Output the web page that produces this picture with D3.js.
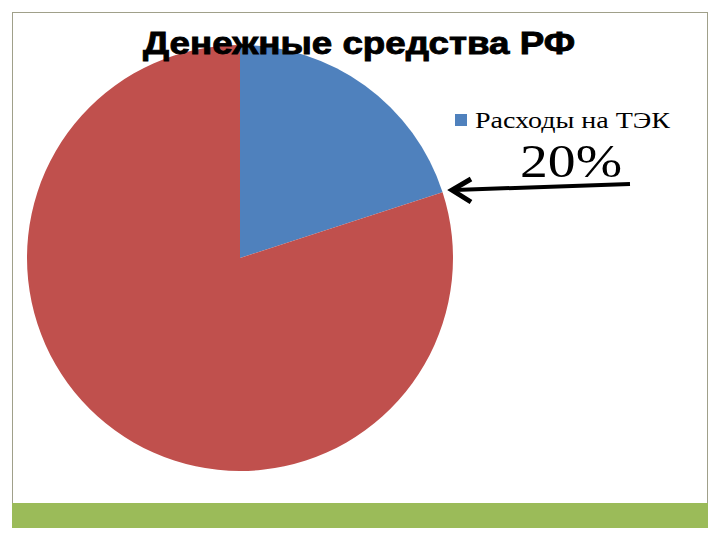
<!DOCTYPE html>
<html><head><meta charset="utf-8">
<script src="https://cdn.jsdelivr.net/npm/d3@7"></script>
<style>body{margin:0;background:#fff}svg{display:block}</style>
</head><body>
<svg id="c" width="720" height="540"></svg>
<script>
const categories = ["Расходы на ТЭК", "Прочие расходы"];
const values = [20, 80];
const colors = ["#4F81BD", "#C0504D"];
const legendItems = ["Расходы на ТЭК"];
const title = "Денежные средства РФ";
const annotation = "20%";

const svg = d3.select("#c");

// frame
svg.append("rect").attr("x",12.5).attr("y",12.5).attr("width",695).attr("height",515)
  .attr("fill","none").attr("stroke","#a0a08a").attr("stroke-width",1);
svg.append("rect").attr("x",12).attr("y",503).attr("width",696).attr("height",25)
  .attr("fill","#9BBB59");

const cx = 240, cy = 258, r = 213;
const pie = d3.pie().sort(null).value(d => d)(values);
const arc = d3.arc().innerRadius(0).outerRadius(r);
const g = svg.append("g").attr("transform", `translate(${cx},${cy})`);
g.selectAll("path").data(pie).join("path")
  .attr("d", arc).attr("fill", (d,i) => colors[i]);

// title
const t = svg.append("text").attr("x",359).attr("y",54).attr("text-anchor","middle")
  .attr("font-family","Liberation Sans, Arial, sans-serif").attr("font-weight","bold")
  .attr("font-size",32).attr("fill","#000").attr("stroke","#000").attr("stroke-width",0.9)
  .text(title);
const tl = t.node().getComputedTextLength();
if (Math.abs(tl-432) > 4) t.attr("textLength",432).attr("lengthAdjust","spacingAndGlyphs");

// legend
const lg = svg.append("g");
legendItems.forEach((name,i) => {
  lg.append("rect").attr("x",455).attr("y",114+i*30).attr("width",12).attr("height",12)
    .attr("fill", colors[categories.indexOf(name)]);
  lg.append("text").attr("x",475).attr("y",128+i*30)
    .attr("font-family","Liberation Serif, Times New Roman, serif").attr("font-size",23)
    .attr("textLength",195).attr("lengthAdjust","spacingAndGlyphs")
    .attr("fill","#000").text(name);
});

// annotation
svg.append("text").attr("x",520).attr("y",177)
  .attr("font-family","Liberation Serif, Times New Roman, serif").attr("font-size",46)
  .attr("textLength",102).attr("lengthAdjust","spacingAndGlyphs")
  .attr("fill","#000").text(annotation);

// arrow
svg.append("line").attr("x1",630).attr("y1",184).attr("x2",455).attr("y2",190)
  .attr("stroke","#000").attr("stroke-width",4);
svg.append("path").attr("d","M471,179 L452,190 L471,202")
  .attr("fill","none").attr("stroke","#000").attr("stroke-width",5)
  .attr("stroke-linejoin","miter");
</script>
</body></html>
